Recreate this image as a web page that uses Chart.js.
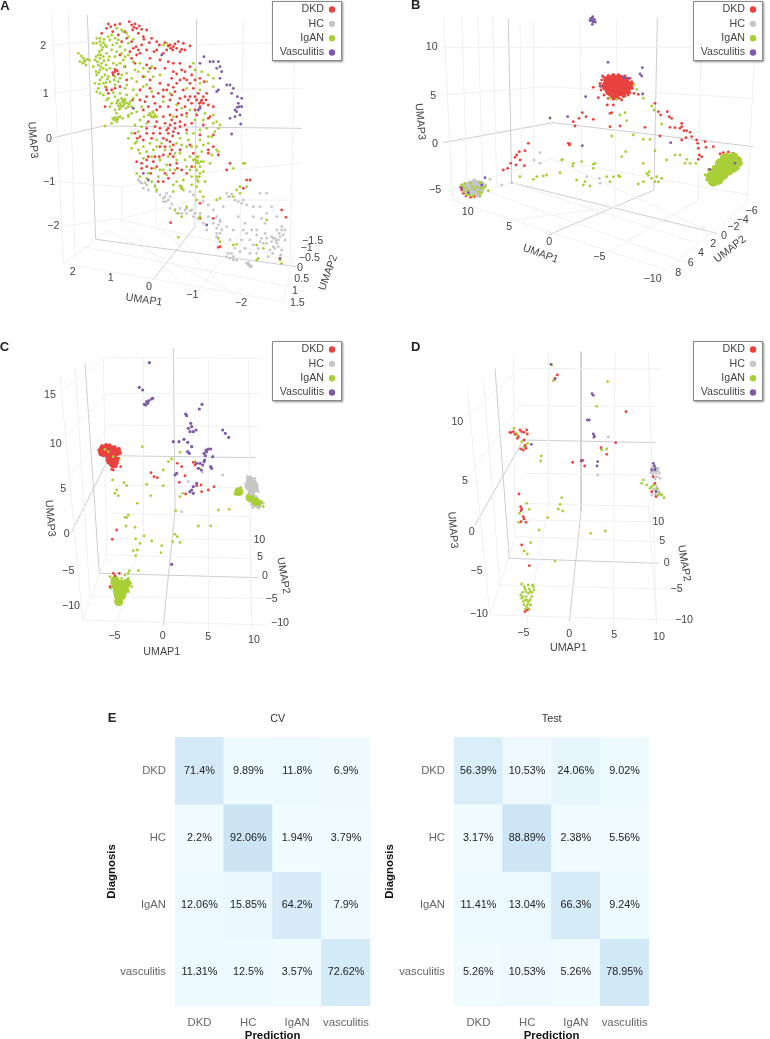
<!DOCTYPE html>
<html><head><meta charset="utf-8">
<style>html,body{margin:0;padding:0;background:#fff;width:770px;height:1039px;overflow:hidden}canvas{position:absolute}</style>
<script src="https://cdn.jsdelivr.net/npm/chart.js@4"></script></head><body>
<canvas id="pA" style="left:0;top:0" width="350" height="320"></canvas>
<canvas id="pB" style="left:380px;top:0" width="390" height="320"></canvas>
<canvas id="pC" style="left:0;top:335px" width="350" height="330"></canvas>
<canvas id="pD" style="left:380px;top:335px" width="390" height="330"></canvas>
<canvas id="hCV" style="left:90px;top:700px" width="290" height="339"></canvas>
<canvas id="hTest" style="left:380px;top:700px" width="280" height="339"></canvas>
<script>
const FONT='"Liberation Sans",Arial,sans-serif';
const groups=['DKD','HC','IgAN','Vasculitis'];
const colors=['#e8423f','#c6c6c6','#a9cf38','#7d5ba6'];
const heatRows=['DKD','HC','IgAN','vasculitis'];
const heatCols=['DKD','HC','IgAN','vasculitis'];
const cvPct=[[71.4,9.89,11.8,6.9],[2.2,92.06,1.94,3.79],[12.06,15.85,64.2,7.9],[11.31,12.5,3.57,72.62]];
const testPct=[[56.39,10.53,24.06,9.02],[3.17,88.89,2.38,5.56],[11.41,13.04,66.3,9.24],[5.26,10.53,5.26,78.95]];

const A_DKD=[[325,72],[332,80],[345,75],[360,72],[320,85],[305,100],[388,65],[395,75],[405,72],[410,85],[398,90],[425,88],[440,90],[415,100],[375,95],[355,105],[338,95],[430,110],[455,115],[470,125],[495,128],[510,135],[520,140],[530,145],[545,148],[555,150],[570,138],[550,130],[535,125],[512,145],[500,150],[490,160],[470,150],[462,155],[480,180],[505,185],[520,190],[495,205],[465,205],[440,195],[415,150],[400,145],[390,155],[410,165],[395,175],[360,165],[345,215],[340,225],[352,212],[320,270],[325,280],[345,265],[360,260],[520,215],[545,210],[555,215],[575,225],[585,240],[560,240],[540,240],[530,250],[505,255],[480,250],[450,265],[440,290],[420,300],[465,310],[490,290],[510,300],[525,275],[550,270],[570,290],[590,300],[605,300],[610,310],[600,320],[625,315],[640,320],[575,310],[555,320],[530,330],[505,320],[490,350],[510,345],[530,350],[455,350],[470,365],[480,385],[500,390],[520,395],[540,380],[555,375],[575,370],[590,345],[625,355],[630,350],[405,400],[420,410],[440,400],[455,415],[510,425],[520,435],[500,420],[480,440],[490,465],[465,470],[445,470],[425,490],[410,485],[440,500],[455,505],[470,500],[495,520],[510,495],[530,490],[545,510],[560,520],[520,520],[490,545],[475,545],[545,565],[600,405],[640,405],[655,465],[625,450],[690,490],[680,510],[740,540],[730,565],[750,540],[845,630],[858,652],[512,668],[660,740],[655,742],[600,655],[612,245],[600,235],[580,265],[620,280],[540,295],[515,360],[525,370],[535,400],[505,400],[490,415],[445,365],[465,380],[430,330],[420,270],[398,300],[375,200],[380,240],[440,150],[425,135],[450,175],[475,280],[450,240],[430,230],[610,290],[595,280],[585,330],[545,345],[470,330],[500,270],[570,200],[540,190],[430,420],[480,400],[560,390],[610,375],[570,435],[540,450],[520,470],[575,500],[315,320],[600,610],[640,655],[555,290],[515,235],[395,125],[380,115],[365,125],[402,82],[418,78],[432,118],[448,128],[478,135],[525,132],[540,155],[518,150],[505,138],[408,140],[420,160],[405,190],[345,208],[338,218],[355,222],[335,270],[318,262],[450,205],[530,222],[552,235],[570,250],[520,262],[490,270],[460,290],[435,305],[445,320],[480,320],[515,285],[535,310],[565,300],[585,290],[603,305],[618,300],[598,310],[560,340],[540,365],[510,375],[495,370],[505,385],[525,385],[518,408],[460,400],[440,385],[412,415],[495,440],[515,450],[510,462],[478,470],[460,485],[440,480],[425,505],[452,520],[505,535],[532,505],[580,460],[625,460],[640,440]];
const A_IGAN=[[235,160],[240,185],[248,190],[255,182],[262,178],[268,180],[250,175],[258,195],[290,130],[300,125],[310,128],[315,135],[320,140],[305,150],[295,165],[300,175],[310,170],[320,160],[325,180],[305,190],[295,195],[310,205],[320,210],[300,210],[315,225],[325,230],[330,205],[340,190],[345,170],[335,150],[350,130],[290,225],[300,240],[310,250],[285,250],[295,265],[285,180],[280,200],[288,215],[330,245],[345,255],[355,245],[335,105],[355,120],[370,95],[380,100],[360,140],[375,150],[385,130],[290,115],[280,130],[350,85],[355,300],[360,310],[368,305],[375,298],[380,310],[370,318],[362,322],[355,318],[350,310],[385,320],[390,305],[395,320],[400,295],[378,325],[365,295],[372,312],[358,328],[345,352],[352,358],[360,350],[350,365],[342,360],[368,355],[385,350],[395,340],[410,335],[335,370],[315,378],[420,360],[450,340],[458,335],[465,345],[455,350],[470,350],[445,345],[400,185],[415,215],[430,205],[395,235],[380,220],[410,245],[430,260],[375,265],[360,280],[345,290],[400,270],[435,230],[460,230],[480,225],[395,400],[385,415],[410,425],[395,445],[430,440],[450,430],[470,420],[485,430],[510,440],[530,430],[540,415],[560,400],[580,400],[600,390],[620,385],[640,370],[655,385],[645,395],[625,410],[600,420],[575,440],[590,470],[580,480],[595,490],[610,485],[635,465],[650,450],[570,470],[555,480],[530,480],[505,470],[480,480],[460,450],[430,475],[420,460],[410,520],[420,530],[455,545],[465,560],[490,510],[500,525],[530,545],[545,560],[550,570],[520,555],[590,530],[600,520],[595,545],[590,560],[600,575],[615,545],[585,500],[630,490],[535,640],[545,650],[525,630],[600,650],[595,655],[650,600],[660,595],[700,590],[710,570],[720,560],[655,715],[660,725],[700,735],[710,733],[800,660],[770,735],[790,745],[775,775],[770,780],[840,780],[845,790],[535,712],[560,620],[720,580],[735,490],[740,560],[500,130],[490,135],[520,350],[560,350],[585,360],[620,245],[605,215],[625,225],[640,260],[580,190],[455,200],[360,190],[370,180],[330,120],[375,170],[320,300],[315,260],[300,280],[325,295],[380,285],[425,320],[405,375],[415,395],[640,345],[615,340],[600,270],[655,455],[610,435],[560,440],[540,460],[445,520],[475,530],[510,510],[550,540],[575,530],[590,510],[600,500],[700,505],[730,490],[595,470],[244,168],[252,186],[302,135],[308,142],[298,155],[288,170],[292,185],[302,200],[296,218],[306,232],[318,195],[328,170],[312,182],[302,165],[322,238],[298,252],[342,240],[318,248],[368,300],[352,304],[362,316],[375,304],[388,312],[348,358],[355,352],[338,355],[460,338],[452,346],[462,352],[585,478],[588,488],[592,482],[602,485],[598,530],[592,540],[545,565],[540,558],[365,90],[385,110],[400,118],[345,115],[325,110],[300,115],[312,118],[338,135],[350,155],[365,160],[385,165],[372,200],[350,195],[345,230],[365,225],[380,255],[360,235],[340,278],[330,320],[345,330],[335,310],[310,285],[290,275],[350,340],[405,210],[420,190],[445,215],[440,255],[455,275],[410,285],[385,345],[432,350],[440,370],[425,380],[405,430],[415,450],[440,455],[455,470],[470,440],[495,450],[525,460],[545,435],[565,420],[590,440],[605,455],[625,430],[635,410],[660,375],[650,365],[610,360],[545,325],[570,330],[530,315],[490,305],[510,280],[560,265],[600,250],[640,235],[585,210],[480,480],[465,505],[440,535],[480,510],[500,495],[525,510],[560,500],[570,510],[610,515],[575,555],[520,575],[470,570],[590,600],[610,590]];
const A_HC=[[415,540],[425,550],[440,555],[430,565],[445,570],[470,575],[480,585],[495,590],[505,600],[490,605],[510,625],[525,630],[545,640],[560,640],[575,630],[585,640],[570,575],[580,585],[610,605],[625,615],[640,630],[650,650],[660,665],[640,670],[650,685],[665,690],[680,580],[690,590],[705,600],[725,610],[740,615],[760,620],[780,580],[800,580],[815,620],[800,640],[785,655],[830,650],[845,680],[855,690],[830,690],[815,710],[835,720],[820,740],[845,750],[800,730],[785,715],[770,705],[755,690],[740,700],[725,720],[700,690],[680,680],[690,720],[720,755],[735,745],[750,760],[770,760],[745,795],[755,800],[700,770],[690,775],[710,780],[680,770],[805,770],[825,745],[855,720],[780,620],[760,650],[825,715],[815,725],[830,730],[840,710],[810,750],[795,700],[780,725],[770,690],[750,795],[740,790],[695,760],[705,745],[660,700],[650,710],[620,690],[625,650],[600,640],[540,625],[530,640],[555,630],[465,555],[500,580],[510,590],[845,690],[795,670],[760,735],[735,670],[715,650],[670,620],[685,590],[730,600],[650,700],[610,670],[580,650],[420,545],[435,548],[490,595],[498,605],[515,612],[570,632],[560,625],[695,582],[715,605],[820,715],[828,722],[838,700],[850,705],[835,740],[818,760],[790,730],[775,745],[750,720],[730,690],[800,715],[842,765],[750,800],[745,788],[700,780],[685,760],[660,660],[655,675]];
const A_VAS=[[600,190],[612,170],[630,185],[655,185],[650,205],[665,215],[660,235],[680,255],[690,255],[700,265],[695,280],[650,275],[712,290],[725,295],[715,310],[725,320],[710,335],[720,345],[705,350],[690,355],[722,372],[695,402],[600,325],[595,330],[400,325],[430,520],[445,540],[485,165],[620,675],[840,775],[718,320],[712,322],[705,330],[660,200],[640,185],[655,270]];

const B_DKD=[[580,365],[585,378],[597,355],[607,338],[618,350],[640,358],[690,340],[690,380],[720,378],[795,382],[825,310],[835,335],[842,345],[862,335],[868,350],[875,355],[870,382],[885,383],[905,370],[905,380],[900,385],[912,392],[920,392],[930,397],[935,410],[918,413],[905,420],[840,408],[950,420],[953,430],[975,425],[978,442],[1000,440],[955,445],[958,465],[965,470],[955,478],[640,262],[655,293],[682,315],[725,300],[445,430],[435,452],[418,455],[410,465],[405,472],[392,490],[420,480],[408,495],[433,497],[383,505],[370,510],[565,430],[568,435],[570,432],[695,338],[1020,462],[1030,458],[1045,456],[1060,460],[1070,468],[1078,475],[985,510],[245,570],[250,580],[282,590],[660,250],[668,228],[755,245],[762,280],[730,290],[700,315],[775,283],[745,285],[665,240],[672,232],[685,226],[700,223],[715,224],[735,228],[750,235],[758,250],[757,265],[750,278],[735,288],[718,295],[700,298],[685,295],[672,285],[663,270],[660,258],[668,262],[678,272],[690,286],[708,288],[725,285],[740,272],[752,258],[742,240],[725,232],[705,230],[688,235],[675,248],[242,562],[258,588],[272,592]];
const B_DKD_CORE=[[685,242],[700,238],[716,238],[732,243],[680,258],[696,254],[712,254],[728,258],[744,258],[690,272],[706,272],[722,274],[736,270],[704,284]];
const B_HC=[[480,458],[480,490],[462,480],[548,478],[330,538],[395,548],[365,555],[620,530],[658,535],[660,550],[318,555],[270,545],[300,590],[258,552],[282,540],[296,545],[250,565],[308,572],[262,582],[292,582]];
const B_HC_CORE=[[268,558],[284,552],[296,566],[276,574],[262,570],[255,562],[302,556],[288,580]];
const B_IGAN=[[760,405],[790,418],[810,418],[825,452],[737,455],[725,470],[885,465],[900,465],[860,480],[920,478],[915,490],[930,490],[948,490],[790,490],[800,520],[808,515],[805,525],[830,530],[815,535],[825,545],[845,535],[835,545],[790,545],[775,552],[700,530],[715,527],[680,530],[640,493],[645,490],[640,505],[605,485],[580,490],[578,498],[540,518],[545,480],[500,525],[490,528],[470,530],[460,538],[420,530],[590,540],[615,545],[610,555],[630,558],[690,545],[720,530],[815,318],[822,330],[735,338],[720,345],[740,362],[845,372],[695,408],[762,255],[770,268],[790,295],[690,295],[710,298],[260,585],[310,565],[325,572],[250,560],[300,548],[265,572],[283,568],[305,578],[255,550],[975,525],[980,540],[988,548],[1000,548],[1015,545],[1030,530],[1048,520],[1062,510],[1075,505],[1085,490],[1082,478],[1072,470],[1055,462],[1040,462],[1025,470],[1012,485],[1000,500],[985,510],[245,555],[252,575],[268,585],[278,588],[295,575],[302,565],[272,550],[290,562],[258,565],[276,560],[300,585],[315,560]];
const B_IGAN_CORE=[[992,530],[1006,535],[1004,518],[1020,525],[1018,505],[1034,512],[1032,490],[1048,498],[1046,478],[1062,486],[1060,472],[1072,488],[1020,490],[1035,475],[1010,510],[1045,512],[1060,503],[1030,525],[1015,540],[1000,545]];
const B_VAS=[[510,354],[563,350],[617,290],[684,187],[787,203],[780,222],[785,228],[788,282],[607,437],[872,428],[315,533],[632,55],[638,50],[643,58],[635,62],[640,66],[646,66],[630,62],[637,73],[636,56],[641,62],[728,230],[745,235],[735,233],[1065,490],[990,508],[265,578],[305,555],[245,565],[662,258]];

const C_DKD=[[362,395],[335,403],[453,413],[462,425],[472,428],[532,385],[545,395],[538,442],[555,422],[557,477],[590,452],[603,450],[605,470],[625,465],[642,455],[350,585],[337,613],[340,405],[340,715],[358,715],[330,755],[345,722],[296,345],[300,358],[358,340],[362,355],[348,395],[580,382],[585,390],[305,332],[318,328],[330,330],[345,335],[358,348],[320,368],[325,385],[352,385],[355,370],[310,362]];
const C_DKD_CORE=[[310,342],[324,340],[338,345],[350,350],[308,352],[322,354],[336,358],[330,374],[344,376],[340,386]];
const C_HC=[[668,420],[565,440],[545,530],[607,412],[755,510],[780,515],[770,515],[790,505],[742,425],[750,425],[765,430],[772,450],[738,445],[742,462],[775,470],[768,485],[758,518],[775,520]];
const C_HC_CORE=[[750,436],[760,446],[764,460],[755,470],[746,452]];
const C_IGAN=[[427,335],[540,352],[505,380],[515,372],[490,405],[585,380],[598,400],[338,435],[372,443],[380,452],[350,465],[345,475],[355,482],[440,448],[490,452],[452,482],[548,475],[540,485],[412,505],[527,527],[655,525],[688,523],[375,547],[385,540],[378,573],[405,577],[595,573],[632,573],[432,603],[407,612],[420,625],[455,618],[485,632],[483,653],[525,598],[532,605],[540,622],[518,620],[412,645],[400,647],[407,662],[388,707],[415,707],[358,370],[325,350],[315,343],[340,365],[395,755],[385,715],[375,720],[380,548],[705,478],[712,468],[722,458],[725,475],[745,480],[785,500],[790,515],[760,505],[750,498],[330,725],[335,745],[332,760],[345,780],[348,800],[358,808],[370,790],[385,770],[392,745],[385,730],[365,730]];
const C_IGAN_CORE=[[345,736],[347,752],[352,768],[356,786],[356,800],[366,780],[374,762],[380,745],[364,748],[716,470],[750,488],[762,494],[772,506],[766,500]];
const C_VAS=[[448,83],[418,157],[428,165],[433,208],[440,200],[447,197],[455,192],[458,190],[443,205],[437,210],[606,208],[598,222],[557,237],[560,242],[572,265],[575,275],[565,280],[570,290],[580,290],[588,285],[668,285],[676,295],[686,307],[520,320],[537,320],[552,313],[563,322],[575,335],[563,350],[568,355],[625,342],[618,345],[612,355],[616,362],[638,365],[614,375],[590,385],[600,385],[608,390],[595,400],[632,395],[635,400],[525,420],[530,415],[590,445],[580,455],[575,465],[580,475],[570,470],[515,688],[632,342],[620,350],[612,380],[604,405]];

const D_DKD=[[400,290],[393,293],[405,298],[420,285],[425,290],[432,292],[440,285],[442,297],[415,305],[432,315],[422,342],[430,345],[438,340],[532,120],[525,130],[738,230],[707,323],[663,338],[680,358],[578,382],[604,378],[608,376],[614,393],[417,477],[422,515],[425,522],[423,527],[430,545],[432,552],[423,560],[438,562],[425,630],[448,692],[435,830],[442,825],[390,292],[412,310],[436,332],[820,425],[825,445],[815,470],[828,485]];
const D_HC=[[685,306],[653,420],[815,400],[825,395],[835,400],[820,410],[812,412],[828,415],[838,415],[840,430],[825,432],[818,395],[830,455],[820,462],[838,470],[826,478],[815,480],[830,470],[822,402],[830,408],[818,418],[835,408],[832,425],[824,465],[834,462],[842,478]];
const D_IGAN=[[402,280],[408,295],[412,300],[425,320],[435,330],[443,325],[432,335],[515,90],[520,137],[683,140],[650,214],[665,345],[680,342],[484,363],[482,378],[545,488],[540,508],[535,522],[548,528],[440,505],[448,523],[418,535],[503,548],[415,562],[477,585],[632,595],[676,588],[452,623],[432,648],[442,657],[525,678],[425,747],[433,755],[445,750],[458,750],[462,765],[435,762],[428,772],[445,775],[455,785],[425,790],[435,795],[445,800],[452,810],[432,810],[440,815],[448,822],[422,780],[450,770],[438,785],[460,755],[430,800],[785,445],[790,435],[800,450],[815,455],[830,462],[838,475],[845,480],[852,488],[822,450],[835,480],[810,460],[438,770],[448,762],[440,795],[450,795],[428,785],[443,808],[436,822],[455,772]];
const D_VAS=[[513,88],[525,132],[636,176],[640,181],[622,255],[628,255],[640,297],[643,303],[642,307],[454,328],[605,377],[653,380],[651,393],[820,385],[823,392],[815,405],[825,405],[828,470],[826,400]];

const A_FAINT=[[[155,30],[190,790]],[[205,32],[225,770]],[[450,60],[470,675]],[[730,60],[720,775]],[[885,90],[870,800]],[[155,135],[262,125],[590,135],[905,125]],[[160,280],[270,265],[590,270],[905,265]],[[170,545],[365,560],[590,520],[900,490]],[[180,680],[365,655],[590,600],[880,600]],[[190,790],[287,718]],[[225,770],[320,690]],[[190,790],[850,905]],[[250,740],[870,860]],[[360,660],[880,775]],[[365,560],[365,660]],[[320,690],[700,880]],[[360,660],[575,880]],[[470,675],[720,900]],[[590,600],[585,680]],[[720,700],[590,880]],[[880,775],[850,905]]];
const A_DARK=[[[165,412],[310,378],[905,385]],[[262,45],[287,718]],[[590,58],[585,680]],[[287,718],[890,800]],[[585,680],[458,840]]];
const B_FAINT=[[[190,45],[218,600]],[[245,45],[262,590]],[[293,45],[310,570]],[[338,45],[350,560]],[[420,60],[425,530]],[[460,60],[462,490]],[[600,60],[605,520]],[[710,55],[705,620]],[[965,60],[955,600]],[[1130,50],[1100,610]],[[190,142],[500,142],[1130,142]],[[190,285],[500,260],[1125,295]],[[215,570],[510,478],[1105,585]],[[218,600],[395,548]],[[218,600],[860,810]],[[860,810],[1100,610]],[[310,570],[925,790]],[[395,548],[955,730]],[[710,620],[400,660]],[[955,600],[660,770]],[[520,478],[1000,700]]];
const B_DARK=[[[190,428],[520,368],[1120,440]],[[385,55],[395,548]],[[832,55],[822,570]],[[395,548],[1010,700]],[[822,570],[505,705]]];
const C_FAINT=[[[180,125],[248,855]],[[225,100],[270,785]],[[310,68],[320,660]],[[430,70],[430,590]],[[625,75],[625,890]],[[745,75],[755,880]],[[185,165],[320,68],[785,70]],[[195,310],[320,175],[780,175]],[[205,430],[330,270],[775,275]],[[340,450],[765,458]],[[340,535],[750,545]],[[320,610],[760,615]],[[320,660],[755,670]],[[270,785],[790,790]],[[248,855],[800,870]],[[320,660],[248,855]],[[430,590],[345,880]],[[750,545],[755,880]]];
const C_DARK=[[[215,590],[330,362],[765,368]],[[520,40],[525,530],[490,870]],[[255,85],[298,715]],[[298,715],[775,728]]];
const D_FAINT=[[[262,165],[330,840]],[[310,130],[360,750]],[[400,60],[405,600]],[[505,50],[505,510]],[[705,50],[700,890]],[[805,50],[830,870]],[[262,245],[418,100],[838,102]],[[275,410],[420,212],[830,215]],[[435,415],[805,420]],[[430,505],[810,515]],[[410,555],[825,560]],[[405,605],[835,620]],[[360,750],[860,762]],[[330,840],[875,855]],[[405,605],[330,840]],[[505,510],[440,870]],[[805,510],[830,870]]];
const D_DARK=[[[285,570],[430,315],[825,323]],[[603,50],[603,530],[568,860]],[[345,100],[388,670]],[[388,670],[835,685]]];

const A_TEXT=[['2',130,137,0],['1',137,283,0],['0',147,417,0],['−1',147,545,0],['−2',160,678,0],['UMAP3',98,420,85],['2',218,815,0],['1',332,835,0],['0',447,862,0],['−1',577,885,0],['−2',723,908,0],['UMAP1',432,900,8],['−1.5',938,722,0],['−1',920,745,0],['−0.5',928,775,0],['0',900,805,0],['0.5',905,838,0],['1',885,873,0],['1.5',892,908,0],['UMAP2',985,818,-70]];
const B_TEXT=[['10',155,142,0],['5',160,287,0],['0',165,433,0],['−5',165,570,0],['UMAP3',120,365,85],['10',263,637,0],['5',388,682,0],['0',508,725,0],['−5',658,772,0],['−10',818,838,0],['UMAP1',482,762,20],['−6',1115,633,0],['−4',1088,660,0],['−2',1060,682,0],['0',1032,708,0],['2',1000,733,0],['4',963,758,0],['6',932,788,0],['8',895,818,0],['UMAP2',1050,748,-38]];
const C_TEXT=[['15',150,180,0],['10',167,327,0],['5',190,463,0],['0',200,597,0],['−5',205,707,0],['−10',213,812,0],['UMAP3',150,550,85],['−5',343,903,0],['0',488,903,0],['5',625,907,0],['10',762,915,0],['UMAP1',485,952,0],['10',778,615,0],['5',780,667,0],['0',795,723,0],['−5',815,793,0],['−10',840,865,0],['UMAP2',850,722,80]];
const D_TEXT=[['10',232,260,0],['5',255,437,0],['0',275,592,0],['−5',290,707,0],['−10',297,838,0],['UMAP3',218,585,85],['−5',430,895,0],['0',568,897,0],['5',703,900,0],['10',837,907,0],['UMAP1',565,938,0],['10',835,560,0],['5',847,618,0],['0',860,685,0],['−5',890,762,0],['−10',912,855,0],['UMAP2',912,685,80]];

const panelText={
 id:'panelText',
 afterDraw(chart,_,o){
  const c=chart.ctx,X=chart.scales.x,Y=chart.scales.y;
  c.save();c.textAlign='center';c.textBaseline='middle';c.fillStyle='#444';c.font='10.7px '+FONT;
  o.text.forEach(t=>{c.save();c.translate(X.getPixelForValue(t[1]),Y.getPixelForValue(t[2]));c.rotate(t[3]*Math.PI/180);c.fillText(t[0],0,0);c.restore();});
  c.font='bold 13px '+FONT;c.fillStyle='#222';c.fillText(o.letter,X.getPixelForValue(o.letterAt[0]),Y.getPixelForValue(o.letterAt[1]));
  const lx=X.getPixelForValue(o.legend[0]),ly=Y.getPixelForValue(o.legend[1]),w=70,h=60;
  c.save();c.shadowColor='rgba(0,0,0,.45)';c.shadowBlur=2;c.shadowOffsetX=1;c.shadowOffsetY=1;c.fillStyle='#fff';c.fillRect(lx,ly,w,h);c.restore();
  c.strokeStyle='#8a8a8a';c.lineWidth=1;c.strokeRect(lx+.5,ly+.5,w-1,h-1);
  c.font='10.7px '+FONT;c.textAlign='right';
  groups.forEach((g,i)=>{const y=ly+8.5+i*14.35;c.fillStyle='#444';c.fillText(g,lx+52,y);c.fillStyle=colors[i];c.beginPath();c.arc(lx+60,y,3.2,0,7);c.fill();});
  c.restore();
 }
};
function lineSets(lines,color,width){return lines.map(d=>({type:'scatter',label:'grid',data:d,showLine:true,borderColor:color,borderWidth:width,pointRadius:0,order:100}));}
function pts(d,i,r,ord){return {type:'scatter',label:groups[i],data:d,backgroundColor:colors[i],borderWidth:0,pointRadius:r,pointHoverRadius:r,order:ord};}
function panel(id,w,h,sets,faint,dark,text,letter,letterAt,legend){
 new Chart(document.getElementById(id),{type:'scatter',
  data:{datasets:[...lineSets(faint,'#f0f0f0',1),...lineSets(dark,'#cdcdd1',1),...sets]},
  options:{responsive:false,animation:false,layout:{padding:0,autoPadding:false},events:[],
   scales:{x:{type:'linear',display:false,min:0,max:w},y:{type:'linear',display:false,min:0,max:h,reverse:true}},
   plugins:{legend:{display:false},tooltip:{enabled:false},panelText:{text,letter,letterAt,legend}}},
  plugins:[panelText]});
}
const R=1.4;
panel('pA',1050,960,[pts(A_DKD,0,R,4),pts(A_HC,1,R,3),pts(A_IGAN,2,R,2),pts(A_VAS,3,R,1)],A_FAINT,A_DARK,A_TEXT,'A',[15,20],[816,3]);
panel('pB',1170,960,[pts(B_DKD_CORE,0,5,3),pts(B_DKD,0,R,2.5),pts(B_HC_CORE,1,4.5,6),pts(B_HC,1,R,5),pts(B_IGAN_CORE,2,5,2),pts(B_IGAN,2,R,1.5),pts(B_VAS,3,R,1)],B_FAINT,B_DARK,B_TEXT,'B',[107,17],[939,3]);
panel('pC',1050,990,[pts(C_DKD_CORE,0,4.5,4),pts(C_DKD,0,R,3.5),pts(C_HC_CORE,1,4,3),pts(C_HC,1,R,2.5),pts(C_IGAN_CORE,2,4.5,5),pts(C_IGAN,2,R,3.7),pts(C_VAS,3,1.6,1)],C_FAINT,C_DARK,C_TEXT,'C',[13,37],[816,18]);
panel('pD',1170,990,[pts(D_DKD,0,R,2),pts(D_HC,1,R,3),pts(D_IGAN,2,R,2.5),pts(D_VAS,3,R,1)],D_FAINT,D_DARK,D_TEXT,'D',[107,37],[939,18]);

function heatColor(p){const t=p/100;const a=[241,252,255],b=[200,227,244];return 'rgb('+a.map((v,i)=>Math.round(v+(b[i]-v)*t)).join(',')+')';}
const cellText={id:'cellText',afterDatasetsDraw(chart,_,o){
 const c=chart.ctx;c.save();c.font='10.8px '+FONT;c.fillStyle='#222';c.textAlign='center';c.textBaseline='middle';
 chart.data.datasets.forEach((ds,r)=>chart.getDatasetMeta(r).data.forEach((el,k)=>{c.fillText(o.pct[r][k]+'%',el.x,(el.y+el.base)/2);}));
 c.fillStyle='#333';c.fillText(o.title,o.titleX,19);
 if(o.letter){c.font='bold 13px '+FONT;c.fillStyle='#222';c.fillText(o.letter,o.letterAt[0],o.letterAt[1]);}
 c.restore();}};
function heat(id,title,titleX,pct,leftW,rightPad,letter,letterAt,titlePad){
 new Chart(document.getElementById(id),{type:'bar',
  data:{labels:heatCols,datasets:heatRows.map((r,i)=>({label:r,data:heatCols.map(()=>[i,i+1]),backgroundColor:pct[i].map(heatColor),borderWidth:0,barPercentage:1,categoryPercentage:1}))},
  options:{responsive:false,animation:false,events:[],layout:{autoPadding:false,padding:{right:rightPad,left:0,top:37,bottom:0}},
   scales:{
    x:{stacked:true,grid:{display:false,drawTicks:false},border:{display:false},ticks:{color:'#666',font:{size:11.3,family:FONT},padding:10,maxRotation:0,autoSkip:false},
       title:{display:true,text:'Prediction',color:'#111',font:{size:11.4,weight:'bold',family:FONT},padding:{top:0,bottom:-4}},
       afterFit(s){s.height=33;}},
    y:{min:0,max:4,reverse:true,grid:{display:false,drawTicks:false},border:{display:false},
       afterBuildTicks(s){s.ticks=[.5,1.5,2.5,3.5].map(v=>({value:v}));},
       ticks:{color:'#666',font:{size:11.3,family:FONT},padding:9,callback:v=>heatRows[v-.5]},
       title:{display:true,text:'Diagnosis',color:'#111',font:{size:11.4,weight:'bold',family:FONT},padding:{top:titlePad,bottom:0}},
       afterFit(s){s.width=leftW;}}},
   plugins:{legend:{display:false},tooltip:{enabled:false},cellText:{pct,title,titleX,letter,letterAt}}},
  plugins:[cellText]});
}
heat('hCV','CV',187.7,cvPct,85,9,'E',[22,18],15);
heat('hTest','Test',171.7,testPct,74,11,'',[0,0],3);
</script></body></html>
